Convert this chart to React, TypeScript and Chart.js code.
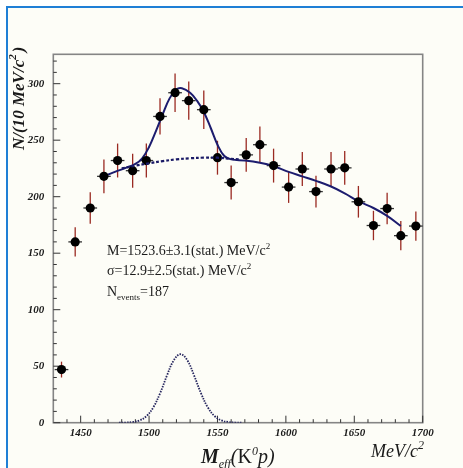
import React, { useEffect, useRef } from "react";
import { Chart, registerables } from "chart.js";

Chart.register(...registerables);

// ---- data ----
const massBins = [1436, 1446, 1457, 1467, 1477, 1488, 1498, 1508, 1519, 1529, 1540, 1550, 1560, 1571, 1581, 1591, 1602, 1612, 1622, 1633, 1643, 1653, 1664, 1674, 1684, 1695];
const counts = [47, 160, 190, 218, 232, 223, 232, 271, 292, 285, 277, 234.5, 212.5, 237, 246, 227.5, 208.5, 224.5, 204.5, 224.5, 225.5, 195.5, 174.5, 189.5, 165.5, 174];
const countErrors = [7, 13, 14, 15, 15, 15, 15, 16, 17, 17, 17, 15, 15, 15, 16, 15, 14, 15, 14, 15, 15, 14, 13, 14, 13, 13];
const binHalfWidth = 5;

const fitX = [1467, 1475, 1483, 1490, 1495, 1500, 1505, 1510, 1515, 1520, 1524, 1530, 1535, 1540, 1545, 1550, 1555, 1560, 1570, 1581, 1591, 1602, 1612, 1622, 1633, 1643, 1653, 1664, 1674, 1684];
const fitY = [218, 222, 225.5, 229, 234, 244, 258, 273, 287, 295, 296, 292, 285, 275, 261, 246, 236, 233, 232, 230, 227, 222, 218, 214, 209, 203, 196, 190, 183, 174];

const bgX = [1480, 1490, 1500, 1510, 1520, 1530, 1540, 1550, 1560, 1566];
const bgY = [225, 227.5, 229.5, 231.5, 233, 234, 234.5, 234.5, 233.5, 233];

const sigX = [1478, 1483, 1488, 1493, 1498, 1503, 1508, 1513, 1518, 1523, 1528, 1533, 1538, 1543, 1548, 1553, 1558, 1563, 1568];
const sigY = [0.05, 0.14, 0.6, 2.0, 5.7, 13.4, 25.9, 41.5, 55.1, 60.6, 55.1, 41.5, 25.9, 13.4, 5.7, 2.0, 0.6, 0.14, 0.05];

const xTickValues = [1450, 1500, 1550, 1600, 1650, 1700];
const yTickValues = [0, 50, 100, 150, 200, 250, 300];
const xMin = 1430, xMax = 1700, yMin = 0, yMax = 326;

const SERIF = '"Liberation Serif", "DejaVu Serif", serif';

type Seg = { t: string; font: string; dy?: number; dx?: number };
function drawSegs(ctx: CanvasRenderingContext2D, segs: Seg[], x: number, y: number) {
  let cx = x;
  for (const s of segs) {
    ctx.font = s.font;
    cx += s.dx || 0;
    ctx.fillText(s.t, cx, y + (s.dy || 0));
    cx += ctx.measureText(s.t).width;
  }
}

const decorPlugin = {
  id: "decor",
  beforeDraw(chart: any) {
    const ctx = chart.ctx as CanvasRenderingContext2D;
    ctx.save();
    ctx.fillStyle = "#ffffff";
    ctx.fillRect(0, 0, chart.width, chart.height);
    ctx.fillStyle = "#fdfdf7";
    ctx.fillRect(7, 7, chart.width - 7, chart.height - 7);
    ctx.strokeStyle = "#1f7fd6";
    ctx.lineWidth = 2;
    ctx.beginPath();
    ctx.moveTo(7, chart.height);
    ctx.lineTo(7, 7);
    ctx.lineTo(chart.width, 7);
    ctx.stroke();
    ctx.restore();
  },
  beforeDatasetsDraw(chart: any) {
    const ctx = chart.ctx as CanvasRenderingContext2D;
    const xs = chart.scales.x, ys = chart.scales.y;
    const a = chart.chartArea;
    ctx.save();
    // frame
    ctx.strokeStyle = "#858585";
    ctx.lineWidth = 1.6;
    ctx.strokeRect(a.left, a.top, a.right - a.left, a.bottom - a.top);
    // ticks
    ctx.strokeStyle = "#333";
    ctx.lineWidth = 1;
    ctx.beginPath();
    for (let v = 1440; v <= xMax; v += 10) {
      const px = xs.getPixelForValue(v);
      const len = v % 50 === 0 ? 7 : 3.5;
      ctx.moveTo(px, a.bottom);
      ctx.lineTo(px, a.bottom - len);
    }
    for (let v = 0; v <= 320; v += 10) {
      const py = ys.getPixelForValue(v);
      const len = v % 50 === 0 ? 7 : 3.5;
      ctx.moveTo(a.left, py);
      ctx.lineTo(a.left + len, py);
    }
    ctx.stroke();
    // error bars
    ctx.lineWidth = 1.3;
    for (let i = 0; i < massBins.length; i++) {
      const px = xs.getPixelForValue(massBins[i]);
      const py = ys.getPixelForValue(counts[i]);
      ctx.strokeStyle = "#9a2a22";
      ctx.beginPath();
      ctx.moveTo(px, ys.getPixelForValue(counts[i] + countErrors[i]));
      ctx.lineTo(px, ys.getPixelForValue(counts[i] - countErrors[i]));
      ctx.stroke();
      ctx.strokeStyle = "#333";
      ctx.beginPath();
      ctx.moveTo(xs.getPixelForValue(massBins[i] - binHalfWidth), py);
      ctx.lineTo(xs.getPixelForValue(massBins[i] + binHalfWidth), py);
      ctx.stroke();
    }
    ctx.restore();
  },
  afterDraw(chart: any) {
    const ctx = chart.ctx as CanvasRenderingContext2D;
    ctx.save();
    ctx.fillStyle = "#1a1a1a";
    ctx.textBaseline = "alphabetic";
    ctx.textAlign = "left";
    const reg = `14px ${SERIF}`;
    const sup = `9px ${SERIF}`;
    drawSegs(ctx, [
      { t: "M=1523.6\u00b13.1(stat.) MeV/c", font: reg },
      { t: "2", font: sup, dy: -6 },
    ], 107, 255);
    drawSegs(ctx, [
      { t: "\u03c3=12.9\u00b12.5(stat.) MeV/c", font: reg },
      { t: "2", font: sup, dy: -6 },
    ], 107, 275);
    drawSegs(ctx, [
      { t: "N", font: reg },
      { t: "events", font: sup, dy: 4 },
      { t: "=187", font: reg },
    ], 107, 296);

    // x title
    const bi20 = `italic bold 20px ${SERIF}`;
    const i20 = `italic 20px ${SERIF}`;
    const r20 = `20px ${SERIF}`;
    drawSegs(ctx, [
      { t: "M", font: bi20 },
      { t: "eff", font: `italic 12px ${SERIF}`, dy: 5 },
      { t: "(", font: i20 },
      { t: "K", font: r20 },
      { t: "0", font: `italic 12px ${SERIF}`, dy: -8 },
      { t: "p)", font: i20 },
    ], 201, 463);
    drawSegs(ctx, [
      { t: "MeV/c", font: `italic 18px ${SERIF}` },
      { t: "2", font: `italic 12px ${SERIF}`, dy: -8 },
    ], 371, 457);

    // y title
    ctx.translate(23.5, 150);
    ctx.rotate(-Math.PI / 2);
    const b17 = `italic bold 17px ${SERIF}`;
    drawSegs(ctx, [
      { t: "N/(10 MeV/c", font: b17 },
      { t: "2", font: `italic bold 11px ${SERIF}`, dy: -8 },
      { t: ")", font: b17, dx: 2 },
    ], 0, 0);
    ctx.restore();
  },
};

export default function App() {
  const ref = useRef<HTMLCanvasElement | null>(null);
  useEffect(() => {
    if (!ref.current) return;
    const pts = (xs: number[], ys: number[]) => xs.map((x, i) => ({ x, y: ys[i] }));
    const tickFont = { family: SERIF, size: 11, style: "italic" as const, weight: "bold" as const };
    const chart = new Chart(ref.current, {
      type: "scatter",
      data: {
        datasets: [
          {
            type: "line",
            data: pts(sigX, sigY),
            borderColor: "#26265e",
            borderWidth: 1.8,
            borderDash: [1.5, 1.2],
            pointRadius: 0,
            tension: 0.4,
            fill: false,
          } as any,
          {
            type: "line",
            data: pts(bgX, bgY),
            borderColor: "#1a1a66",
            borderWidth: 2.2,
            borderDash: [3, 2],
            pointRadius: 0,
            tension: 0.4,
            fill: false,
          } as any,
          {
            type: "scatter",
            data: pts(massBins, counts),
            backgroundColor: "#000",
            borderWidth: 0,
            pointRadius: 4.6,
            pointHoverRadius: 4.6,
          },
          {
            type: "line",
            data: pts(fitX, fitY),
            borderColor: "#1c1c6e",
            borderWidth: 2,
            pointRadius: 0,
            tension: 0.4,
            fill: false,
          } as any,
        ],
      },
      options: {
        animation: false,
        responsive: false,
        devicePixelRatio: 1,
        layout: { padding: { left: 13.3, right: 40.3, top: 54.3, bottom: 23.3 } },
        plugins: { legend: { display: false }, tooltip: { enabled: false } },
        events: [],
        scales: {
          x: {
            type: "linear",
            min: xMin,
            max: xMax,
            afterBuildTicks: (s: any) => { s.ticks = xTickValues.map((v) => ({ value: v })); },
            afterFit: (s: any) => { s.height = 22; },
            grid: { display: false, drawTicks: false },
            border: { display: false },
            ticks: {
              font: tickFont,
              color: "#1a1a1a",
              padding: 4,
              maxRotation: 0,
              callback: (v: any) => String(v),
            },
          },
          y: {
            type: "linear",
            min: yMin,
            max: yMax,
            afterBuildTicks: (s: any) => { s.ticks = yTickValues.map((v) => ({ value: v })); },
            afterFit: (s: any) => { s.width = 40; },
            grid: { display: false, drawTicks: false },
            border: { display: false },
            ticks: {
              font: tickFont,
              color: "#1a1a1a",
              padding: 9,
              callback: (v: any) => String(v),
            },
          },
        },
      },
      plugins: [decorPlugin],
    });
    return () => chart.destroy();
  }, []);
  return (
    <div style={{ position: "fixed", left: 0, top: 0, width: 463, height: 468 }}>
      <canvas ref={ref} width={463} height={468} style={{ display: "block" }} />
    </div>
  );
}
